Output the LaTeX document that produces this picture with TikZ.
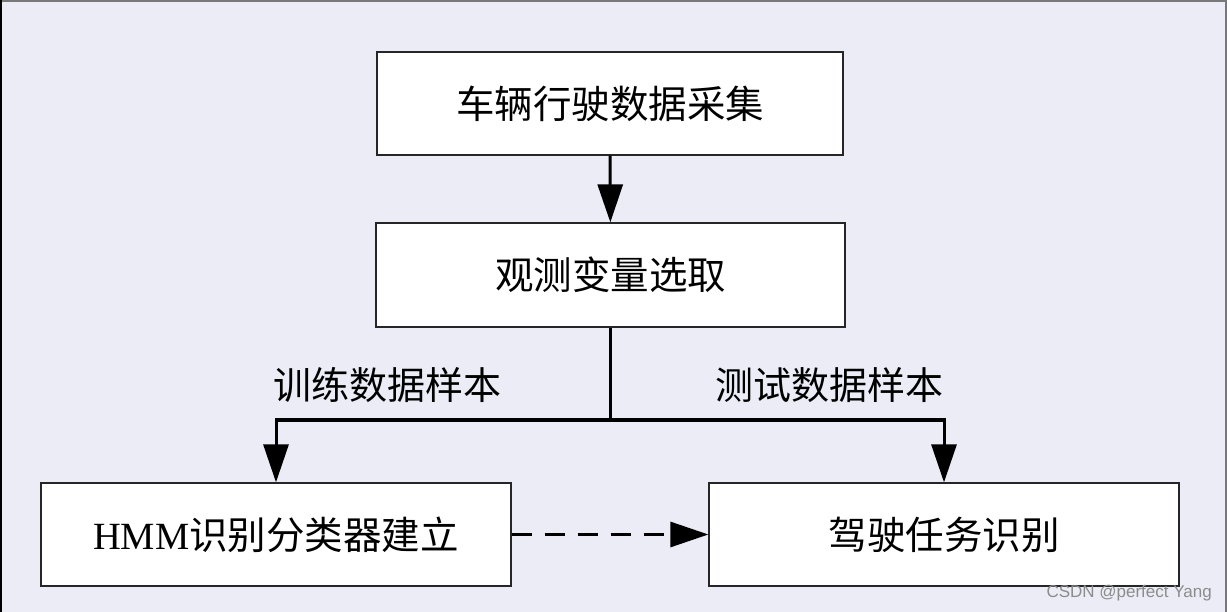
\documentclass[tikz,border=0pt]{standalone}
\usepackage{fontspec}
\setmainfont{Liberation Serif}
\newfontfamily\cjk{Noto Sans CJK SC}
\newfontfamily\wmfont{Liberation Sans}
\usetikzlibrary{arrows.meta,positioning}
\definecolor{bgpanel}{RGB}{236,236,247}
\definecolor{framegray}{RGB}{120,120,120}
\tikzset{
  stepbox/.style={draw=black!85,line width=1.3pt,fill=white,minimum width=468pt,minimum height=103pt,inner sep=0pt,font=\fontsize{38.5}{42}\selectfont\cjk},
  flow/.style={line width=3pt,-{Triangle[length=38pt,width=25pt]}},
  branch/.style={line width=3pt},
  tag/.style={font=\fontsize{38}{42}\selectfont\cjk,inner sep=0pt}
}
\begin{document}
\begin{tikzpicture}[x=1pt,y=-1pt]
  \useasboundingbox (0,0) rectangle (1227,612);
  \fill[bgpanel] (0,0) rectangle (1227,612);
  \draw[framegray,line width=2pt] (0,1.5) -- (1225.5,1.5) -- (1225.5,612);
  \draw[black,line width=2pt] (1,0) -- (1,612);
  % boxes
  \node[stepbox,minimum width=466pt] (collect) at (610,103.5) {车辆行驶数据采集};
  \node[stepbox,minimum width=469pt,minimum height=104pt] (observe) at (610.5,275) {观测变量选取};
  \node[stepbox,minimum width=470pt] (build) at (276,534.5) {{\rmfamily HMM}识别分类器建立};
  \node[stepbox,minimum width=470pt] (recog) at (944,534.5) {驾驶任务识别};
  % labels
  \node[tag] (train) at (387,385) {训练数据样本};
  \node[tag] (test) at (829,385) {测试数据样本};
  % connectors
  \coordinate (split) at (observe.south |- 0,420);
  \draw[flow] (collect) -- (observe);
  \draw[branch] (observe.south) -- (split);
  \draw[flow] (split) -| (build.north);
  \draw[flow] (split) -| (recog.north);
  \draw[flow,dash pattern=on 20pt off 13pt] (build) -- (recog);
  % watermark
  \node[font=\fontsize{17}{19}\selectfont\wmfont,text=black!45,anchor=east,inner sep=0pt] (mark) at (1212,593) {CSDN @perfect Yang};
\end{tikzpicture}
\end{document}
